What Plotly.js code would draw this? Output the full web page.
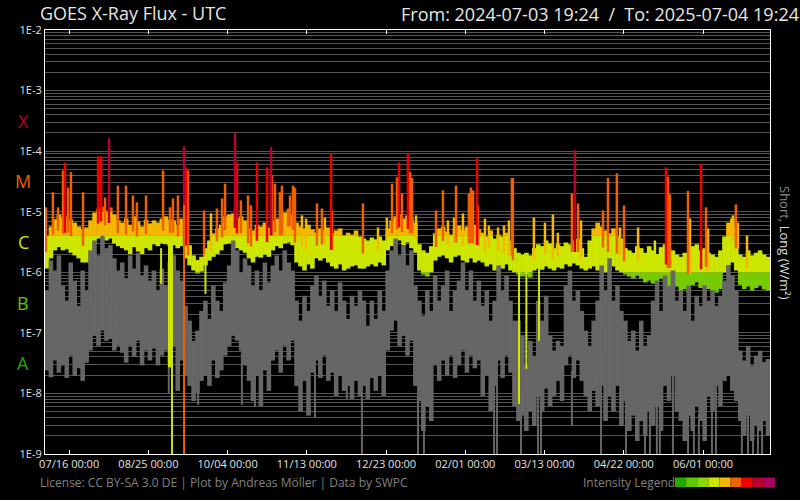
<!DOCTYPE html>
<html><head><meta charset="utf-8">
<script src="https://cdn.plot.ly/plotly-3.0.1.min.js"></script>
<style>html,body{margin:0;padding:0;background:#000;}#chart{width:800px;height:500px;}</style>
</head><body><div id="chart"></div>
<script>
// ---------- time frame ----------
const startTime = Date.UTC(2024, 6, 3, 19, 24);
const endTime = Date.UTC(2025, 6, 4, 19, 24);
const binDays = 2; // each value below summarises a 2-day bin (min / max)

// ---------- GOES long channel (0.1-0.8 nm), band max per bin, W/m2 ----------
const longHigh = [
4.0e-6,5.7e-6,7.5e-6,9.0e-6,8.0e-6,8.4e-6,7.4e-6,6.6e-6,5.7e-6,5.1e-6,
5.5e-6,7.2e-6,9.7e-6,1.13e-5,1.22e-5,1.05e-5,1.18e-5,9.0e-6,7.2e-6,6.6e-6,
7.7e-6,6.1e-6,8.4e-6,6.9e-6,5.7e-6,7.4e-6,6.4e-6,7.2e-6,6.6e-6,7.7e-6,
8.4e-6,7.4e-6,7.2e-6,6.1e-6,7.7e-6,4.5e-6,2.8e-6,1.9e-6,1.6e-6,1.8e-6,
2.5e-6,3.35e-6,4.4e-6,5.3e-6,6.1e-6,8.4e-6,9.0e-6,9.4e-6,7.7e-6,8.4e-6,
7.2e-6,5.3e-6,4.9e-6,6.1e-6,5.7e-6,6.6e-6,5.5e-6,7.2e-6,7.7e-6,6.6e-6,
9.7e-6,1.05e-5,9.0e-6,6.6e-6,5.7e-6,5.3e-6,6.1e-6,5.1e-6,4.5e-6,5.3e-6,
4.9e-6,5.5e-6,4.4e-6,4.9e-6,5.3e-6,4.05e-6,4.5e-6,4.2e-6,4.9e-6,3.9e-6,
3.6e-6,3.35e-6,3.75e-6,3.5e-6,3.9e-6,3.35e-6,5.3e-6,7.2e-6,8.4e-6,9.0e-6,
7.7e-6,8.7e-6,7.7e-6,6.6e-6,2.9e-6,2.3e-6,2.1e-6,2.7e-6,4.4e-6,5.3e-6,
5.7e-6,4.7e-6,4.2e-6,5.3e-6,5.9e-6,4.9e-6,5.7e-6,5.3e-6,6.1e-6,5.1e-6,
4.5e-6,3.9e-6,4.9e-6,3.6e-6,4.2e-6,3.9e-6,4.5e-6,3.35e-6,2.5e-6,2.1e-6,
1.96e-6,2.1e-6,1.9e-6,2.5e-6,2.9e-6,2.7e-6,3.35e-6,3.0e-6,2.5e-6,2.9e-6,
2.7e-6,3.1e-6,2.9e-6,3.35e-6,3.6e-6,2.5e-6,1.8e-6,3.35e-6,5.3e-6,6.6e-6,
5.7e-6,4.9e-6,4.4e-6,5.3e-6,3.9e-6,3.6e-6,2.5e-6,2.3e-6,2.1e-6,2.7e-6,
2.5e-6,2.1e-6,2.7e-6,2.3e-6,2.0e-6,2.6e-6,2.9e-6,2.5e-6,2.3e-6,1.96e-6,
1.8e-6,2.1e-6,1.9e-6,2.7e-6,2.9e-6,2.3e-6,2.5e-6,2.1e-6,1.96e-6,1.8e-6,
2.3e-6,3.9e-6,6.6e-6,7.7e-6,5.7e-6,1.96e-6,1.8e-6,2.3e-6,1.9e-6,2.1e-6,
2.3e-6,1.96e-6,1.8e-6];

// ---------- GOES long channel, band min per bin ----------
const longLow = [
1.15e-6,1.7e-6,2.3e-6,2.6e-6,2.3e-6,2.4e-6,2.1e-6,1.9e-6,1.7e-6,1.45e-6,
1.45e-6,2.1e-6,3.0e-6,3.6e-6,3.9e-6,3.35e-6,3.6e-6,3.0e-6,2.7e-6,2.5e-6,
2.3e-6,2.0e-6,2.6e-6,2.2e-6,2.0e-6,2.5e-6,2.3e-6,2.9e-6,2.7e-6,3.0e-6,
2.9e-6,2.7e-6,2.8e-6,2.5e-6,2.7e-6,1.7e-6,1.3e-6,1.07e-6,9.5e-7,1.03e-6,
1.3e-6,1.56e-6,1.8e-6,2.0e-6,2.3e-6,2.9e-6,3.0e-6,3.1e-6,2.5e-6,2.3e-6,
2.1e-6,1.7e-6,1.45e-6,1.8e-6,1.75e-6,1.96e-6,1.8e-6,2.3e-6,2.7e-6,2.5e-6,
3.0e-6,3.1e-6,2.8e-6,1.45e-6,1.25e-6,1.07e-6,1.35e-6,1.15e-6,1.7e-6,1.56e-6,
1.7e-6,1.45e-6,1.25e-6,1.15e-6,1.35e-6,1.07e-6,1.15e-6,1.25e-6,1.3e-6,1.15e-6,
1.15e-6,1.25e-6,1.35e-6,1.25e-6,1.45e-6,1.3e-6,2.3e-6,2.7e-6,3.1e-6,3.35e-6,
2.8e-6,3.1e-6,2.5e-6,2.1e-6,1.07e-6,9.2e-7,8.5e-7,1.0e-6,1.56e-6,1.8e-6,
1.9e-6,1.7e-6,1.45e-6,1.8e-6,1.9e-6,1.56e-6,1.45e-6,1.7e-6,1.45e-6,1.56e-6,
1.45e-6,1.25e-6,1.35e-6,1.07e-6,1.25e-6,1.15e-6,1.35e-6,1.07e-6,1.0e-6,9.2e-7,
8.5e-7,9.2e-7,8.2e-7,1.07e-6,1.15e-6,1.1e-6,1.25e-6,1.15e-6,1.07e-6,1.2e-6,
1.15e-6,1.35e-6,1.25e-6,1.4e-6,1.3e-6,1.15e-6,1.07e-6,1.15e-6,1.25e-6,1.07e-6,
1.15e-6,1.0e-6,1.07e-6,1.25e-6,1.07e-6,1.0e-6,9.2e-7,8.5e-7,7.9e-7,8.8e-7,
7.9e-7,6.8e-7,7.3e-7,6.5e-7,7.0e-7,7.9e-7,6.2e-7,5.5e-7,5.3e-7,5.8e-7,
5.0e-7,5.3e-7,4.6e-7,6.2e-7,6.8e-7,5.5e-7,6.0e-7,5.3e-7,5.0e-7,4.6e-7,
5.3e-7,1.0e-6,1.3e-6,1.45e-6,1.07e-6,6.2e-7,5.3e-7,5.8e-7,5.0e-7,5.5e-7,
6.0e-7,5.2e-7,5.0e-7];

// ---------- GOES short channel (0.05-0.4 nm), max per bin ----------
const shortHigh = [
5.0e-7,1.56e-6,1.07e-6,1.9e-6,6.0e-7,3.4e-7,1.45e-6,7.3e-7,2.8e-7,1.07e-6,
5.0e-7,2.3e-6,3.35e-6,1.9e-6,3.9e-6,2.5e-6,2.8e-6,1.7e-6,1.07e-6,1.45e-6,
7.9e-7,1.9e-6,1.15e-6,2.1e-6,8.8e-7,1.3e-6,7.3e-7,1.07e-6,5.0e-7,1.15e-6,
6.0e-7,1.45e-6,1.9e-6,1.07e-6,7.3e-7,2.8e-7,1.59e-7,7.4e-8,1.09e-7,2.3e-7,
3.4e-7,1.7e-7,6.0e-7,3.4e-7,2.3e-7,6.8e-7,1.3e-6,3.35e-6,2.3e-6,1.0e-6,
1.7e-6,1.3e-6,6.0e-7,1.07e-6,5.0e-7,1.45e-6,6.8e-7,1.3e-6,1.9e-6,1.07e-6,
2.3e-6,1.45e-6,1.07e-6,3.4e-7,1.59e-7,4.1e-7,2.3e-7,6.0e-7,8.8e-7,4.1e-7,
7.3e-7,2.8e-7,5.0e-7,2.3e-7,6.8e-7,3.4e-7,1.7e-7,4.1e-7,2.8e-7,5.0e-7,
3.4e-7,1.31e-7,3.4e-7,1.7e-7,5.0e-7,2.3e-7,1.07e-6,2.3e-6,3.6e-6,1.9e-6,
2.8e-6,1.3e-6,2.3e-6,6.0e-7,3.4e-7,1.92e-7,5.0e-7,2.3e-7,8.8e-7,3.4e-7,
6.0e-7,1.07e-6,2.3e-7,5.0e-7,7.3e-7,1.45e-6,5.0e-7,1.07e-6,3.4e-7,7.3e-7,
2.8e-7,5.0e-7,1.59e-7,3.4e-7,1.3e-6,5.0e-7,8.8e-7,3.4e-7,1.59e-7,1.59e-7,
9.0e-8,2.9e-8,7.4e-8,4.2e-8,3.4e-7,1.59e-7,4.1e-7,9.0e-8,5.1e-8,7.4e-8,
6.1e-8,6.0e-7,1.07e-6,3.4e-7,5.0e-7,2.3e-7,1.09e-7,6.1e-8,1.59e-7,3.4e-7,
1.3e-6,5.0e-7,1.7e-6,3.4e-7,6.0e-7,2.3e-7,1.59e-7,7.4e-8,1.09e-7,5.1e-8,
1.59e-7,6.1e-8,9.0e-8,3.4e-7,7.3e-7,2.3e-7,8.8e-7,6.0e-7,1.07e-6,3.4e-7,
5.0e-7,2.3e-7,6.0e-7,1.59e-7,4.1e-7,2.8e-7,6.0e-7,3.4e-7,5.0e-7,2.8e-7,
4.1e-7,7.3e-7,1.3e-6,8.8e-7,5.0e-7,5.1e-8,3.5e-8,6.1e-8,2.9e-8,4.2e-8,
5.1e-8,3.3e-8,3.7e-8];

// ---------- GOES short channel, min per bin ----------
const shortLow = [
2.4e-8,1.85e-8,3.5e-8,2.2e-8,2.9e-8,1.8e-8,4.2e-8,1.95e-8,2.6e-8,1.61e-8,
3.2e-8,5.1e-8,9.0e-8,6.1e-8,1.09e-7,7.4e-8,8.0e-8,5.1e-8,6.1e-8,4.7e-8,
3.2e-8,6.1e-8,4.0e-8,7.4e-8,2.9e-8,5.1e-8,3.5e-8,5.5e-8,2.9e-8,4.2e-8,
5.1e-8,3.2e-8,6.1e-8,1.1e-8,3.5e-8,1.95e-8,1.33e-8,7.5e-9,1.02e-8,1.61e-8,
1.95e-8,1.33e-8,3.5e-8,1.8e-8,2.4e-8,4.2e-8,6.1e-8,9.0e-8,7.4e-8,5.1e-8,
2.9e-8,1.61e-8,7.5e-9,1.95e-8,6.2e-9,2.4e-8,1.1e-8,3.5e-8,5.1e-8,2.2e-8,
6.1e-8,3.5e-8,7.4e-8,1.33e-8,5.1e-9,1.61e-8,4.3e-9,2.2e-8,3.5e-8,1.8e-8,
4.2e-8,1.61e-8,2.2e-8,9.1e-9,1.95e-8,1.1e-8,1.33e-8,8.1e-9,1.61e-8,9.1e-9,
1.33e-8,8.1e-9,1.8e-8,1.1e-8,1.95e-8,9.1e-9,5.1e-8,1.09e-7,1.59e-7,6.1e-8,
9.0e-8,4.2e-8,7.4e-8,1.33e-8,7.5e-9,2.4e-9,6.2e-9,3.5e-9,2.9e-8,1.61e-8,
3.5e-8,1.95e-8,4.2e-8,1.8e-8,2.9e-8,5.1e-8,2.2e-8,4.2e-8,2.6e-8,3.5e-8,
9.1e-9,1.95e-8,5.1e-9,1.33e-8,3.5e-8,1.8e-8,4.2e-8,2.2e-8,6.2e-9,3.5e-9,
4.3e-9,2.4e-9,5.1e-9,2.9e-9,9.1e-9,5.1e-9,1.2e-8,6.2e-9,9.1e-9,1.61e-8,
7.5e-9,2.9e-8,4.2e-8,1.8e-8,3.5e-8,1.61e-8,9.1e-9,5.1e-9,1.1e-8,6.2e-9,
1.33e-8,3.5e-9,9.1e-9,5.1e-9,1.33e-8,2.9e-9,7.5e-9,2.4e-9,4.3e-9,1.64e-9,
3.5e-9,2.0e-9,5.1e-9,2.9e-9,6.2e-9,2.4e-9,1.33e-8,7.5e-9,1.95e-8,5.1e-9,
3.5e-9,1.64e-9,4.3e-9,2.4e-9,6.2e-9,3.5e-9,1.64e-9,9.1e-9,5.1e-9,1.33e-8,
6.2e-9,1.61e-8,1.95e-8,1.1e-8,7.5e-9,3.5e-9,2.0e-9,4.3e-9,1.64e-9,2.9e-9,
2.4e-9,3.5e-9,2.0e-9];

// ---------- flares (long channel peaks): day since start, peak flux ----------
const flareDay = [0.5,4.0,6.6,9.1,10.1,11.6,13.1,19.2,26.8,28.3,30.3,32.3,36.8,40.9,44.4,46.4,51.0,59.6,63.1,64.6,
67.1,70.2,71.2,72.2,80.3,83.8,86.8,89.4,90.9,95.9,96.9,98.9,102.5,104.0,107.0,112.1,114.1,114.6,116.1,118.6,
119.6,122.7,123.7,125.2,126.2,129.7,131.8,137.3,139.8,141.3,144.4,144.9,160.5,168.1,172.6,175.2,177.7,178.7,180.2,183.2,
184.3,185.3,187.3,197.4,200.9,203.4,206.5,207.5,211.0,214.0,215.0,216.1,218.1,218.6,222.1,224.1,228.7,231.7,234.2,235.7,
236.2,246.8,252.4,256.4,258.9,266.0,267.5,269.1,270.6,281.7,284.2,288.7,290.3,292.3,299.4,307.9,313.5,314.5,315.5,324.6,
325.6,331.2,333.7,334.7,347.3,348.8,349.8,354.4];
const flarePeak = [1.18e-5,2.1e-5,1.18e-5,4.8e-5,6.5e-5,2.5e-5,4.5e-5,2.1e-5,8.2e-5,8.2e-5,1.72e-5,1.63e-4,2.7e-5,2.7e-5,1.86e-5,1.43e-5,1.86e-5,4.8e-5,1.18e-5,1.66e-5,
1.86e-5,1.2e-4,5.4e-5,4.8e-5,1.05e-5,9.4e-6,1.13e-5,1.66e-5,2.9e-5,1.98e-4,6.5e-5,1.54e-5,1.86e-5,1.27e-5,6.5e-5,5.4e-5,1.16e-4,4.0e-5,2.9e-5,2.1e-5,
2.7e-5,1.13e-5,1.86e-5,2.7e-5,2.5e-5,8.7e-6,7.7e-6,1.37e-5,1.13e-5,8.0e-6,9.2e-5,1.05e-5,1.37e-5,5.5e-6,8.0e-6,2.9e-5,3.7e-5,6.5e-5,2.0e-5,9.2e-5,
4.5e-5,3.6e-5,8.7e-6,1.05e-5,2.25e-5,7.2e-6,8.0e-6,2.7e-5,9.4e-6,2.0e-5,2.5e-5,2.25e-5,7.6e-5,1.27e-5,7.7e-6,5.9e-6,5.5e-6,5.9e-6,7.2e-6,3.6e-5,
3.6e-5,8.0e-6,6.6e-6,9.0e-6,4.5e-6,2.0e-5,1.03e-4,1.37e-5,7.2e-6,1.05e-5,3.6e-5,4.3e-5,5.5e-6,1.27e-5,5.5e-6,3.35e-6,5.4e-5,3.8e-5,1.93e-5,2.2e-5,
7.7e-6,6.1e-5,1.18e-5,5.3e-6,8.7e-6,1.32e-5,6.6e-6,4.05e-6];

// ---------- long channel data drop-outs: day, value before, lowest value ----------
const dropDay = [58.6,62.6,63.4,64.1,70.2,81.0,239.3,243.0,249.4];
const dropTop = [2.5e-6,3.0e-6,3.0e-6,3.0e-6,1.3e-5,2.0e-6,2.0e-6,2.0e-6,2.0e-6];
const dropFloor = [6.5e-7,2.7e-8,2.7e-8,1e-9,1e-9,4.4e-7,6.7e-9,2.55e-8,7.4e-8];

// ---------- short channel deep dips: day, lowest value ----------
const dipDay = [62.5,77.3,99.4,106.0,133.8,136.3,152.4,
160.0,188.3,191.3,226.7,228.2,240.3,248.9,250.4,
266.0,
280.7,293.3,302.9,305.4,308.9,310.4,317.0,324.6,327.6,330.1,336.7,338.7,351.8,354.9,357.4,359.9,362.0];
const dipFloor = [1.0e-8,6.5e-9,6.5e-9,6.0e-9,4.7e-9,4.0e-9,8.0e-9,
1e-9,1e-9,1e-9,1e-9,1e-9,1e-9,1e-9,1e-9,
2.9e-9,
1e-9,1e-9,1e-9,1e-9,1e-9,1e-9,1e-9,1e-9,1e-9,1e-9,1e-9,1e-9,1e-9,1e-9,1e-9,1e-9,1e-9];

// ---------- axis labels ----------
const xTickStart = '2024-07-16';
const xTickStepDays = 40;
const classLetters = ['X','M','C','B','A'];
const classLetterPos = [-3.5,-4.5,-5.5,-6.5,-7.5]; // log10 flux (mid decade)
const classLetterColors = ['#b8002e','#ee6000','#cce600','#5cc800','#22aa00'];

// intensity legend colours
const legendColors = ['#22aa00','#5cc800','#88d800','#cce600','#f5b800','#ee6000','#ee0000','#bb0030','#aa0066'];
// colours used to draw the long channel by level
const drawLimits = [0,1e-7,5e-7,1e-6,4e-6,1e-5,5e-5,1e-4,5e-4,1];
const drawColors = ['#22aa00','#5cc800','#76cc00','#cce600','#f5b800','#ee6000','#ee0000','#bb0030','#aa0066'];

// ---------- build traces ----------
const DAY = 86400000;
const binTime = i => startTime + (i * binDays + binDays / 2) * DAY;
const dayTime = d => startTime + d * DAY;
const classOf = v => { for (let k = drawColors.length - 1; k >= 0; k--) if (v >= drawLimits[k]) return k; return 0; };

const traces = [];
function segTrace(xs, ys, color, width) {
  return {type: 'scatter', mode: 'lines', x: xs, y: ys, line: {color: color, width: width},
          hoverinfo: 'skip', connectgaps: false, showlegend: false};
}
const BAND_W = 4.6;

// long channel band split by intensity level
for (let k = 0; k < drawColors.length; k++) {
  const xs = [], ys = [];
  for (let i = 0; i < longHigh.length; i++) {
    const a = Math.max(longLow[i], drawLimits[k]);
    const b = Math.min(longHigh[i], drawLimits[k + 1]);
    if (b > a) { const t = binTime(i); xs.push(t, t, null); ys.push(a, b, null); }
  }
  if (xs.length) traces.push(segTrace(xs, ys, drawColors[k], BAND_W));
}
// flares, coloured by their peak level
for (let k = 0; k < drawColors.length; k++) {
  const xs = [], ys = [];
  for (let j = 0; j < flareDay.length; j++) {
    if (classOf(flarePeak[j]) !== k) continue;
    const bin = Math.min(longHigh.length - 1, Math.floor(flareDay[j] / binDays));
    const base = Math.sqrt(longLow[bin] * longHigh[bin]);
    const t = dayTime(flareDay[j]);
    xs.push(t, t, null); ys.push(Math.min(base, flarePeak[j]), flarePeak[j], null);
  }
  if (xs.length) traces.push(segTrace(xs, ys, drawColors[k], 2.5));
}
// short channel
{
  const xs = [], ys = [];
  for (let i = 0; i < shortHigh.length; i++) { const t = binTime(i); xs.push(t, t, null); ys.push(shortLow[i], shortHigh[i], null); }
  traces.push(segTrace(xs, ys, '#666666', BAND_W));
  const dx = [], dy = [];
  for (let j = 0; j < dipDay.length; j++) {
    const bin = Math.min(shortLow.length - 1, Math.floor(dipDay[j] / binDays));
    const t = dayTime(dipDay[j]);
    dx.push(t, t, null); dy.push(shortLow[bin] * 1.3, dipFloor[j], null);
  }
  traces.push(segTrace(dx, dy, '#666666', 2));
}
// long channel drop-outs
for (let k = 0; k < drawColors.length; k++) {
  const xs = [], ys = [];
  for (let j = 0; j < dropDay.length; j++) {
    if (classOf(dropTop[j]) !== k) continue;
    const t = dayTime(dropDay[j]);
    xs.push(t, t, null); ys.push(dropTop[j], dropFloor[j], null);
  }
  if (xs.length) traces.push(segTrace(xs, ys, drawColors[k], 2));
}

// y grid: every 1..9 x 10^n, labels only on decades
const gridVals = [], gridText = [];
for (let e = -9; e <= -3; e++) for (let m = 1; m <= 9; m++) { gridVals.push(m * Math.pow(10, e)); gridText.push(m === 1 ? '1E' + e : ''); }
gridVals.push(1e-2); gridText.push('1E-2');

// ---------- layout ----------
const L = 45, R = 30, T = 30, B = 46, W = 800, H = 500;
const pw = W - L - R, ph = H - T - B;
const px = x => (x - L) / pw;          // pixel x -> paper
const py = y => (H - B - y) / ph;      // pixel y -> paper
const annFont = {family: 'Open Sans', size: 12, color: '#808080'};

const annotations = [
  {text: 'From: 2024-07-03 19:24\u00a0 /\u00a0 To: 2025-07-04 19:24', xref: 'paper', yref: 'paper', x: px(801), y: py(14),
   xanchor: 'right', yanchor: 'middle', showarrow: false, font: {family: 'Open Sans', size: 18, color: '#e6e6e6'}},
  {text: 'License: CC BY-SA 3.0 DE | Plot by Andreas Möller | Data by SWPC', xref: 'paper', yref: 'paper', x: px(38), y: py(482),
   xanchor: 'left', yanchor: 'middle', showarrow: false, font: annFont},
  {text: 'Intensity Legend', xref: 'paper', yref: 'paper', x: px(677), y: py(482),
   xanchor: 'right', yanchor: 'middle', showarrow: false, font: annFont},
  {text: '<span style="color:#8a8a8a">Short,</span> <span style="color:#dcdcdc">Long (W/m²)</span>', xref: 'paper', yref: 'paper',
   x: px(785), y: py(243), xanchor: 'center', yanchor: 'middle', textangle: 90, showarrow: false,
   font: {family: 'Open Sans', size: 13, color: '#dcdcdc'}}
];
classLetters.forEach((c, k) => annotations.push({text: c, xref: 'paper', yref: 'y', x: px(23), y: classLetterPos[k],
  xanchor: 'center', yanchor: 'middle', showarrow: false, font: {family: 'Open Sans', size: 18, color: classLetterColors[k]}}));

const shapes = legendColors.map((c, k) => ({type: 'rect', xref: 'paper', yref: 'paper',
  x0: px(675 + k * 11.1), x1: px(675 + (k + 1) * 11.1), y0: py(487), y1: py(477.5),
  fillcolor: c, line: {width: 0}, layer: 'above'}));

const layout = {
  width: W, height: H,
  paper_bgcolor: '#000', plot_bgcolor: '#000',
  margin: {l: L, r: R, t: T, b: B, pad: 0},
  showlegend: false, hovermode: false,
  font: {family: 'Open Sans', color: '#e0e0e0', size: 11},
  title: {text: 'GOES X-Ray Flux - UTC', xref: 'container', yref: 'container', x: 40 / W, y: 1 - 14 / H,
          xanchor: 'left', yanchor: 'middle', font: {family: 'Open Sans', size: 18, color: '#e6e6e6'}},
  xaxis: {type: 'date', range: [startTime, endTime], tick0: xTickStart, dtick: xTickStepDays * DAY,
          tickformat: '%m/%d %H:%M', ticks: 'inside', ticklen: 4, tickwidth: 1, tickcolor: '#ffffff',
          showline: true, linecolor: '#ffffff', linewidth: 1, mirror: 'ticks', showgrid: false, zeroline: false,
          tickfont: {family: 'Open Sans', size: 11, color: '#e0e0e0'}},
  yaxis: {type: 'log', range: [-9, -2], tickmode: 'array', tickvals: gridVals, ticktext: gridText, ticks: '',
          showline: true, linecolor: '#ffffff', linewidth: 1, mirror: true, showgrid: true, gridcolor: '#555555',
          gridwidth: 1, zeroline: false, tickfont: {family: 'Open Sans', size: 11, color: '#e0e0e0'}},
  annotations: annotations,
  shapes: shapes
};

Plotly.newPlot('chart', traces, layout, {displayModeBar: false, staticPlot: true});
</script>
</body></html>
